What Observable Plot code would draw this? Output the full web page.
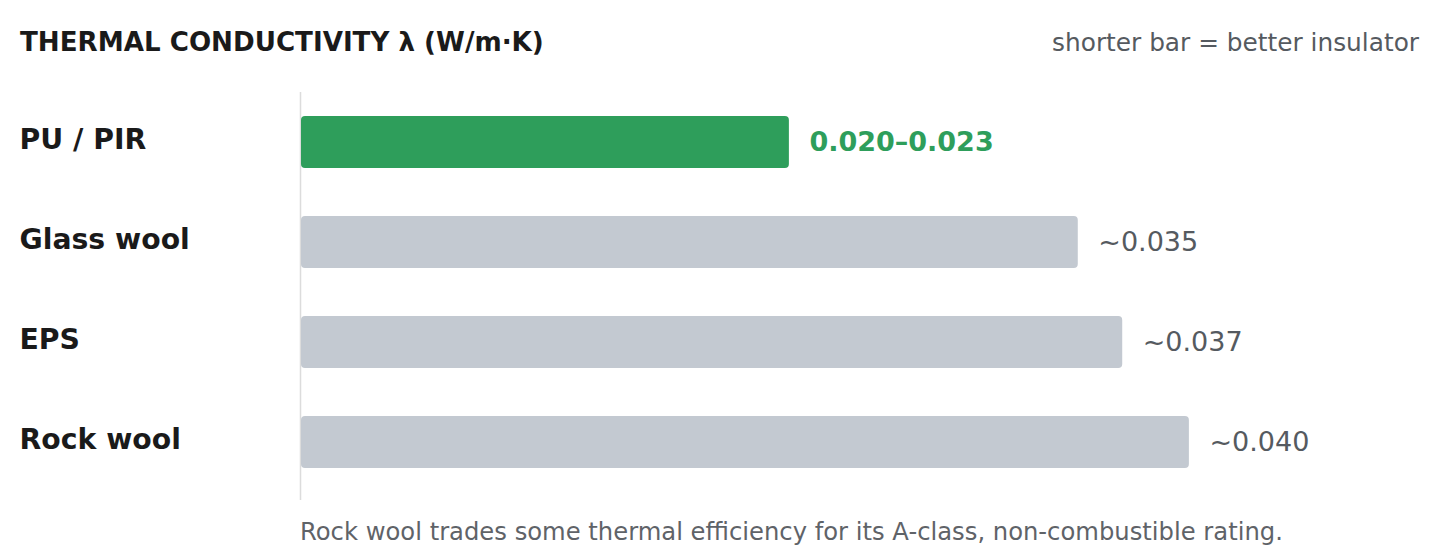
<!DOCTYPE html>
<html>
<head>
<meta charset="utf-8">
<script src="https://cdn.jsdelivr.net/npm/d3@7"></script>
<script src="https://cdn.jsdelivr.net/npm/@observablehq/plot@0.6"></script>
<style>
  html, body { margin: 0; padding: 0; background: #fff; }
  body { width: 1440px; height: 560px; overflow: hidden; font-family: "DejaVu Sans", sans-serif; position: relative; }
  #title { position: absolute; left: 20px; top: 27px; font-size: 26.15px; font-weight: bold; color: #1a1a1a; white-space: nowrap; }
  #subtitle { position: absolute; right: 21px; top: 28px; font-size: 24.8px; color: #555a60; white-space: nowrap; }
  #chart { position: absolute; left: 0; top: 92px; }
  #caption { position: absolute; left: 300px; top: 517px; font-size: 24.25px; color: #5f6368; white-space: nowrap; }
</style>
</head>
<body>
<div id="title">THERMAL CONDUCTIVITY λ (W/m·K)</div>
<div id="subtitle">shorter bar = better insulator</div>
<div id="chart"></div>
<div id="caption">Rock wool trades some thermal efficiency for its A-class, non-combustible rating.</div>
<script>
const materials = ["PU / PIR", "Glass wool", "EPS", "Rock wool"];
const lambdaValues = [0.022, 0.035, 0.037, 0.040];
const valueLabels = ["0.020–0.023", "~0.035", "~0.037", "~0.040"];
const highlight = [true, false, false, false];

const data = materials.map((m, i) => ({
  name: m, value: lambdaValues[i], label: valueLabels[i], hi: highlight[i]
}));
const hiData = data.filter(d => d.hi);
const loData = data.filter(d => !d.hi);

const green = "#2e9e5b";
const gray = "#c3c9d1";

const plot = Plot.plot({
  width: 1440,
  height: 408,
  marginLeft: 300,
  marginRight: 140,
  marginTop: 0,
  marginBottom: 0,
  style: { fontFamily: "DejaVu Sans, sans-serif", background: "transparent", overflow: "visible" },
  x: { domain: [0, 0.045], axis: null },
  y: { domain: materials, range: [0, 400], paddingInner: 0.48, paddingOuter: 0.24, axis: null },
  marks: [
    Plot.ruleX([0], { stroke: "#dcdcdc", strokeWidth: 1.5 }),
    Plot.barX(data, { x: "value", y: "name", fill: d => d.hi ? green : gray, rx: 4, insetLeft: 1 }),
    Plot.text(hiData, {
      x: "value", y: "name", text: "label", dx: 20, textAnchor: "start",
      fill: green, fontWeight: "bold", fontSize: 27
    }),
    Plot.text(loData, {
      x: "value", y: "name", text: "label", dx: 20, textAnchor: "start",
      fill: "#555a60", fontSize: 27
    }),
    Plot.text(data, {
      y: "name", text: "name", frameAnchor: "left", dx: -281, dy: -3, textAnchor: "start",
      fill: "#1a1a1a", fontWeight: "bold", fontSize: 28.3
    })
  ]
});
document.getElementById("chart").appendChild(plot);
</script>
</body>
</html>
